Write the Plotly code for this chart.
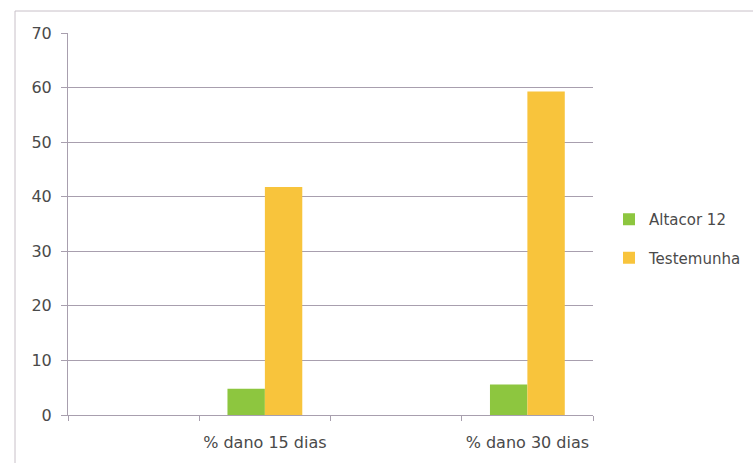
import plotly.graph_objects as go

categories = ["", "% dano 15 dias", " ", "% dano 30 dias"]
altacor = [None, 4.8, None, 5.6]
testemunha = [None, 41.8, None, 59.3]
y_ticks = [0, 10, 20, 30, 40, 50, 60, 70]

W, H = 753, 463
L, R, T, B = 68, 160, 33, 48
pw, ph = W - L - R, H - T - B

fig = go.Figure()
fig.add_trace(go.Bar(x=categories, y=altacor, name="Altacor 12", legendgroup="a",
                     marker=dict(color="#8dc63f", line=dict(width=0))))
fig.add_trace(go.Bar(x=categories, y=testemunha, name="Testemunha", legendgroup="b",
                     marker=dict(color="#f8c43c", line=dict(width=0))))

grid = "#a89fae"
txt = "#4a4a4a"
fig.update_layout(
    width=W, height=H,
    margin=dict(l=L, r=R, t=T, b=B, autoexpand=False),
    paper_bgcolor="white", plot_bgcolor="white",
    barmode="group", bargap=0.43, bargroupgap=0,
    font=dict(family="DejaVu Sans", size=15, color=txt),
    legend=dict(x=(609 - L) / pw, y=(415 - 203) / ph, xanchor="left", yanchor="top",
                bgcolor="rgba(0,0,0,0)", font=dict(size=15, color=txt),
                tracegroupgap=16, itemwidth=30),
    xaxis=dict(type="category", categoryorder="array", categoryarray=categories,
               showline=True, linecolor=grid, linewidth=1,
               ticks="outside", ticklen=5, tickcolor=grid, tickson="boundaries",
               showgrid=False, ticklabelstandoff=13, tickangle=0,
               tickfont=dict(size=16, color=txt)),
    yaxis=dict(range=[0, 70], tickvals=y_ticks, showgrid=True, gridcolor=grid, gridwidth=1,
               showline=True, linecolor=grid, linewidth=1, ticks="outside", ticklen=6,
               tickcolor=grid, zeroline=False, ticklabelstandoff=6,
               tickfont=dict(size=16, color=txt)),
    shapes=[
        dict(type="line", xref="paper", yref="paper",
             x0=(15 - L) / pw, x1=(W - L) / pw, y0=(H - B - 11) / ph, y1=(H - B - 11) / ph,
             line=dict(color="#c8c0c8", width=1)),
        dict(type="line", xref="paper", yref="paper",
             x0=(15 - L) / pw, x1=(15 - L) / pw, y0=(H - B - 11) / ph, y1=-(B) / ph,
             line=dict(color="#c8c0c8", width=1)),
    ],
)
fig.write_html("out.html")
